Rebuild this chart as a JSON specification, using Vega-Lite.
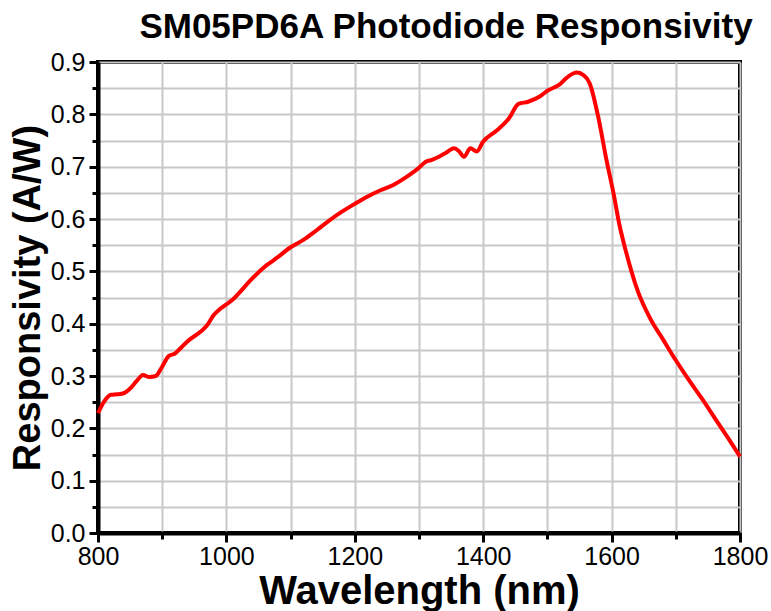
{
  "$schema": "https://vega.github.io/schema/vega-lite/v6.json",
  "autosize": "none",
  "width": 642,
  "height": 471,
  "padding": {"left": 98, "top": 62, "right": 31, "bottom": 78},
  "background": "white",
  "title": {
    "text": "SM05PD6A Photodiode Responsivity",
    "font": "Liberation Sans",
    "fontSize": 35,
    "fontWeight": "bold",
    "color": "black",
    "anchor": "middle",
    "dx": 27,
    "offset": 5
  },
  "config": {
    "view": {"stroke": "black", "strokeWidth": 4},
    "axis": {
      "labelFont": "Liberation Sans",
      "labelFontSize": 25,
      "labelColor": "black",
      "titleFont": "Liberation Sans",
      "titleFontWeight": "bold",
      "titleColor": "black",
      "domainColor": "black",
      "domainWidth": 4,
      "tickColor": "black",
      "tickWidth": 3,
      "gridColor": "#c8c8c8",
      "gridWidth": 2,
      "gridOpacity": 1
    }
  },
  "data": {"values": [
    {"wl": 800, "r": 0.229}, {"wl": 810, "r": 0.252}, {"wl": 820, "r": 0.264}, {"wl": 830, "r": 0.265},
    {"wl": 840, "r": 0.267}, {"wl": 850, "r": 0.276}, {"wl": 860, "r": 0.29}, {"wl": 870, "r": 0.302},
    {"wl": 880, "r": 0.298}, {"wl": 890, "r": 0.3}, {"wl": 900, "r": 0.318}, {"wl": 910, "r": 0.338},
    {"wl": 920, "r": 0.343}, {"wl": 930, "r": 0.355}, {"wl": 940, "r": 0.367}, {"wl": 960, "r": 0.385},
    {"wl": 970, "r": 0.397}, {"wl": 980, "r": 0.416}, {"wl": 990, "r": 0.428}, {"wl": 1000, "r": 0.437},
    {"wl": 1010, "r": 0.446}, {"wl": 1020, "r": 0.459}, {"wl": 1040, "r": 0.486}, {"wl": 1060, "r": 0.509},
    {"wl": 1070, "r": 0.518}, {"wl": 1080, "r": 0.527}, {"wl": 1100, "r": 0.546}, {"wl": 1120, "r": 0.56},
    {"wl": 1140, "r": 0.578}, {"wl": 1160, "r": 0.597}, {"wl": 1180, "r": 0.614}, {"wl": 1200, "r": 0.629},
    {"wl": 1220, "r": 0.643}, {"wl": 1240, "r": 0.655}, {"wl": 1260, "r": 0.665}, {"wl": 1280, "r": 0.68},
    {"wl": 1300, "r": 0.698}, {"wl": 1310, "r": 0.709}, {"wl": 1320, "r": 0.713}, {"wl": 1340, "r": 0.725},
    {"wl": 1355, "r": 0.735}, {"wl": 1362, "r": 0.73}, {"wl": 1370, "r": 0.719}, {"wl": 1380, "r": 0.735},
    {"wl": 1390, "r": 0.729}, {"wl": 1400, "r": 0.748}, {"wl": 1420, "r": 0.768}, {"wl": 1440, "r": 0.792},
    {"wl": 1455, "r": 0.82}, {"wl": 1470, "r": 0.824}, {"wl": 1488, "r": 0.834}, {"wl": 1500, "r": 0.845},
    {"wl": 1520, "r": 0.858}, {"wl": 1530, "r": 0.87}, {"wl": 1540, "r": 0.878}, {"wl": 1546, "r": 0.88},
    {"wl": 1555, "r": 0.876}, {"wl": 1566, "r": 0.859}, {"wl": 1579, "r": 0.796}, {"wl": 1592, "r": 0.713},
    {"wl": 1603, "r": 0.649}, {"wl": 1612, "r": 0.59}, {"wl": 1623, "r": 0.535}, {"wl": 1640, "r": 0.465},
    {"wl": 1660, "r": 0.41}, {"wl": 1680, "r": 0.37}, {"wl": 1700, "r": 0.33}, {"wl": 1720, "r": 0.293},
    {"wl": 1740, "r": 0.258}, {"wl": 1760, "r": 0.221}, {"wl": 1780, "r": 0.184}, {"wl": 1800, "r": 0.146}
  ]},
  "layer": [
    {
      "mark": {"type": "line", "opacity": 0},
      "encoding": {
        "x": {"field": "wl", "type": "quantitative", "scale": {"domain": [800, 1800], "nice": false, "zero": false},
              "axis": {"orient": "bottom", "values": [800, 900, 1000, 1100, 1200, 1300, 1400, 1500, 1600, 1700, 1800], "labels": false, "title": null, "tickSize": 6, "grid": true, "domain": false}},
        "y": {"field": "r", "type": "quantitative", "scale": {"domain": [0, 0.9], "nice": false},
              "axis": {"orient": "left", "values": [0, 0.05, 0.1, 0.15, 0.2, 0.25, 0.3, 0.35, 0.4, 0.45, 0.5, 0.55, 0.6, 0.65, 0.7, 0.75, 0.8, 0.85, 0.9], "labels": false, "title": null, "tickSize": 6, "grid": true, "domain": false}}
      }
    },
    {
      "mark": {"type": "line", "color": "#ff0000", "strokeWidth": 4, "interpolate": "monotone"},
      "encoding": {
        "x": {"field": "wl", "type": "quantitative", "scale": {"domain": [800, 1800], "nice": false, "zero": false},
              "axis": {"orient": "bottom", "values": [800, 1000, 1200, 1400, 1600, 1800], "format": "d", "title": "Wavelength (nm)", "titleFontSize": 40, "tickSize": 9, "grid": false, "labelPadding": 2, "titlePadding": 2, "labelFlush": false}},
        "y": {"field": "r", "type": "quantitative", "scale": {"domain": [0, 0.9], "nice": false},
              "axis": {"orient": "left", "values": [0, 0.1, 0.2, 0.3, 0.4, 0.5, 0.6, 0.7, 0.8, 0.9], "format": ".1f", "title": "Responsivity (A/W)", "titleFontSize": 38, "tickSize": 9, "grid": false, "labelPadding": 4, "titlePadding": 3, "labelFlush": false}}
      }
    }
  ],
  "resolve": {"axis": {"x": "independent", "y": "independent"}}
}
